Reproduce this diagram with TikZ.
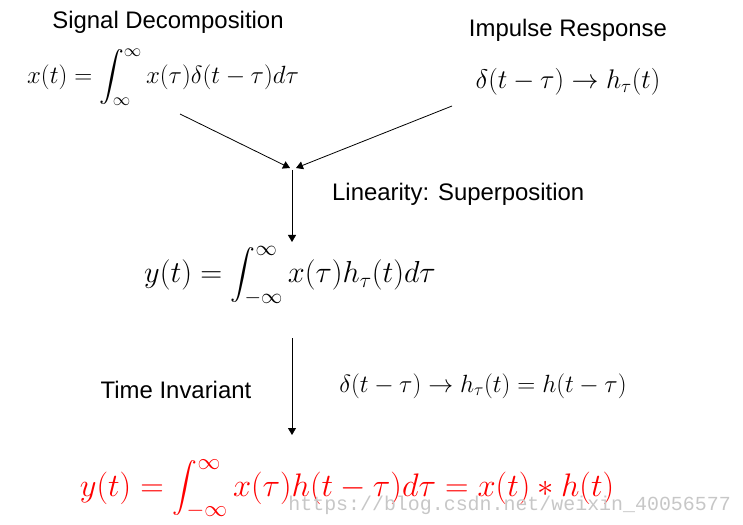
\RequirePackage{fix-cm}
\documentclass[tikz,border=0pt]{standalone}
\usepackage{amsmath}
\usepackage{fontspec}
\setmainfont{Liberation Serif}
\setsansfont{Liberation Sans}
\setmonofont{Liberation Mono}
\usetikzlibrary{arrows.meta,positioning}
\begin{document}
\begin{tikzpicture}[>={Triangle[length=7bp,width=8bp]},x=1bp,y=-1bp,
  ttl/.style={font=\fontsize{24}{28}\selectfont\sffamily,inner sep=0pt},
  eq/.style={font=\fontsize{25}{30}\selectfont,inner sep=0pt},
  bigeq/.style={font=\fontsize{30.5}{36}\selectfont,inner sep=0pt},
  flow/.style={->,line width=0.8bp},
  wmark/.style={font=\fontsize{20}{24}\selectfont\ttfamily,text=black!22,inner sep=0pt}]
\useasboundingbox (0,0) rectangle (743,525);
\node[ttl] (sigttl) at (168,22) {Signal Decomposition};
\node[eq] (decomp) at (163,77) {$\displaystyle x(t)=\int_{\infty}^{\infty}x(\tau)\delta(t-\tau)d\tau$};
\node[ttl] (impttl) at (568,30) {Impulse Response};
\node[eq,font=\fontsize{27}{32}\selectfont] (impulse) at (568,82) {$\delta(t-\tau)\rightarrow h_{\tau}(t)$};
\coordinate (fromdec) at (180,114);
\coordinate (fromimp) at (452,106);
\coordinate (meetL) at (290,168);
\coordinate (meetR) at (296,168);
\coordinate (split) at (292,170);
\draw[flow] (fromdec) -- (meetL);
\draw[flow] (fromimp) -- (meetR);
\node[ttl,anchor=west] (lin) at (332,194) {Linearity: Superposition};
\node[bigeq] (super) at (290,276) {$\displaystyle y(t)=\int_{-\infty}^{\infty}x(\tau)h_{\tau}(t)d\tau$};
\draw[flow] (split) -- (292,242) coordinate (superin);
\coordinate (timeout) at (292,338);
\coordinate (convin) at (292,435);
\draw[flow] (timeout) -- (convin);
\node[ttl] (tinv) at (176,390) {Time Invariant};
\node[eq] (shift) at (483,386) {$\delta(t-\tau)\rightarrow h_{\tau}(t)=h(t-\tau)$};
\node[bigeq,text=red,font=\fontsize{32.7}{40}\selectfont] (conv) at (347,489) {$\displaystyle y(t)=\int_{-\infty}^{\infty}x(\tau)h(t-\tau)d\tau=x(t)*h(t)$};
\node[wmark,anchor=east] (url) at (731,505) {https://blog.csdn.net/weixin\_40056577};
\end{tikzpicture}
\end{document}
